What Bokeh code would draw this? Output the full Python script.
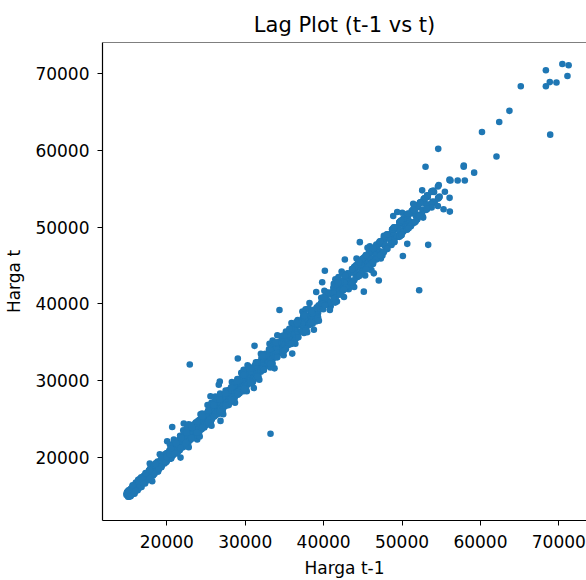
from bokeh.plotting import figure
from bokeh.models import Range1d, FixedTicker, Span
from bokeh.embed import file_html
from bokeh.resources import INLINE

# Price series (Harga), in passes along the diagonal
harga_rendah_naik = [15230, 14980, 15410, 15060, 14870, 15320, 15750, 15290, 15040, 15580, 15910, 15440, 15820, 16350, 15970, 15620, 16180, 16540, 16060, 16710, 16420, 16030, 16590, 17120, 16680, 17040, 17560, 16990, 16740, 17390, 17810, 17330, 17720, 18260, 17690, 18110, 18640, 18250, 17880, 18520, 18930, 18470, 19060, 18620, 19240, 19710, 19180, 18830, 19450, 19960, 19510, 20140, 19760, 20380, 20820, 20290, 20710]
harga_rendah_turun = [20190, 20560, 19830, 19420, 19950, 19370, 18890, 19310, 18700, 18290, 18830, 18160, 17740, 18220, 17590, 17280, 17760, 17150, 16720, 17230, 16590, 16250, 16780, 16120, 15830, 16290, 15690, 15410, 15880, 15260, 14960, 15380, 14910, 15160, 14870, 15090]
harga_naik_halus = [15080, 15190, 15150, 15330, 15290, 15460, 15610, 15540, 15720, 15700, 15890, 15830, 16010, 16170, 16120, 16300, 16480, 16410, 16590, 16560, 16780, 16920, 16850, 17060, 17010, 17240, 17390, 17330, 17520, 17700, 17650, 17850, 17800, 18030, 18190, 18140, 18340, 18520, 18470, 18690, 18640, 18860, 19030, 18980, 19200, 19390, 19330, 19550, 19500, 19740, 19920, 19860, 20090, 20280, 20220, 20460, 20410, 20650, 20850, 20790, 21030, 21240, 21170, 21420, 21360, 21620, 21830, 21760, 22020, 22240, 22160, 22430, 22370, 22640, 22870, 22790, 23060, 23290, 23200, 23480, 23410, 23690, 23930, 23840, 24120, 24370, 24280, 24570, 24490, 24780, 25040, 24950, 25240, 25510, 25410, 25710, 25620, 25920, 26200, 26100, 26400, 26690, 26580, 26890, 26790, 27100, 27390, 27280, 27600, 27900, 27790, 28110, 28010, 28340, 28650, 28530, 28860, 29180, 29060, 29390, 29290, 29630, 29960, 29830, 30170, 30500, 30370, 30720, 30610, 30960, 31300, 31170, 31520, 31870, 31730, 32090, 31980, 32340, 32700, 32560, 32920, 33290, 33140, 33520, 33400, 33780, 34160, 34010, 34390, 34780, 34620, 35010, 34890, 35280, 35680, 35520, 35920, 36320, 36150, 36560, 36430, 36840, 37250, 37080, 37490, 37910, 37730, 38150, 38020, 38450, 38880, 38690, 39130, 39560, 39370, 39810, 39680, 40120, 40560, 40360, 40810, 41260, 41050, 41510, 41370, 41830, 42290, 42070, 42540, 43010, 42780, 43260, 43110, 43590, 44070, 43830, 44320, 44810, 44560, 45060, 44900, 45400, 45910, 45650, 46160, 46680, 46410, 46930, 46760, 47280, 47810, 47530, 48060, 48600, 48310, 48850, 48670, 49210, 49760, 49460, 50010, 50570, 50260, 50820, 50630, 51200, 51770, 51450, 52020, 52600, 52280]
harga_turun_halus = [51630, 51890, 51020, 50740, 51260, 50390, 49980, 50310, 49640, 49560, 48910, 49370, 48700, 48260, 48490, 47710, 47930, 47180, 46840, 47460, 46610, 46380, 45830, 46090, 45240, 45510, 44970, 44320, 44700, 43980, 44110, 43420, 42890, 43350, 42600, 42740, 42050, 41660, 42010, 41230, 41450, 40790, 40160, 40520, 39870, 39960, 39300, 38840, 39250, 38560, 38690, 38030, 37640, 38010, 37260, 37420, 36780, 36250, 36600, 35950, 36080, 35420, 34990, 35360, 34640, 34770, 34150, 33730, 34090, 33410, 33520, 32890, 32380, 32730, 32090, 32210, 31620, 31210, 31550, 30910, 31030, 30440, 30060, 30370, 29780, 29880, 29300, 28830, 29150, 28570, 28680, 28130, 27760, 28060, 27480, 27590, 27060, 26700, 26990, 26440, 26540, 26020, 25580, 25880, 25330, 25440, 24930, 24600, 24860, 24340, 24440, 23950, 23540, 23830, 23310, 23400, 22920, 22610, 22870, 22380, 22470, 21990, 21620, 21890, 21410, 21480, 21030, 20740, 20980, 20520, 20590, 20140, 19800, 20050, 19620, 19680, 19250, 18970, 19190, 18770, 18830, 18420, 18100, 18320, 17910, 17970, 17580, 17310, 17510, 17120, 17170, 16800, 16500, 16700, 16330, 16380, 16030, 15780, 15950, 15610, 15660, 15330, 15100, 15270, 14950]
harga_rendah_lonjak = [15470, 15130, 15690, 16010, 15640, 16350, 17050, 16610, 17240, 17680, 17120, 17550, 17830, 19190, 18720, 18350, 18890, 18140, 16880, 17370, 17860, 17290, 17940, 18430, 17810, 18360, 18970, 18410, 18980, 18560, 19110, 20380, 19820, 19430, 20010, 20560, 19940, 20470, 20980, 20690, 23940, 23360, 22810, 23330, 22690, 22150, 22740, 22120, 21640, 22230, 21590, 21180, 21750, 19960, 20050, 22090, 21530, 21070, 21660, 21090, 20610, 21240, 20730, 20360, 20940, 21480]
harga_tengah_naik = [21020, 21690, 22250, 21640, 22370, 21930, 22640, 23210, 22580, 22090, 22880, 23460, 22830, 23540, 24120, 23390, 23960, 24680, 24110, 23690, 24510, 25160, 24440, 25080, 25690, 25010, 24620, 25430, 26120, 25390, 26080, 26710, 25980, 26640, 27340, 26590, 26150, 27020, 27730, 26980, 27690, 28410, 27620, 28350, 29080, 28290, 27880, 28760, 29490, 28650, 29380, 30170, 29310, 30050, 30840, 30020, 30660, 31100, 29030, 29640, 28910, 28540, 29060, 32870]
harga_tengah_turun = [32090, 32780, 31930, 31240, 31990, 31150, 30480, 31260, 30390, 29760, 30510, 29630, 28970, 29790, 28880, 28260, 29050, 28140, 27510, 28320, 27430, 26830, 27610, 26850, 24740, 25410, 24630, 24060, 24790, 23880, 22310, 22980, 22270, 21770, 22410, 22890, 22170, 24400, 23690, 23170, 23880, 23210, 22930, 32100]
harga_tengah_datar = [32870, 32240, 33130, 32560, 33480, 32760, 33390, 33740, 31590, 32390, 33050, 32380, 33170, 32510, 33230, 23060]
harga_tengah_pulih = [23710, 24290, 23590, 24360, 24990, 24180, 24870, 25570, 27950, 27310, 26690, 27430, 26740, 26180, 26760, 29870, 29160, 28550, 29310, 28490, 27890, 28670, 27840, 27270, 28060, 27220, 26630, 29450, 28810, 29690, 30380, 29560, 30420, 31090, 30240, 30660, 31190, 34520]
harga_atas_awal = [33760, 33090, 33920, 34680, 33870, 34760, 35480, 34650, 35540, 36270, 35410, 36000, 33510, 34310, 35020, 34190, 33920, 34370, 39190]
harga_atas_turun = [38390, 39010, 38130, 37360, 38170, 37240, 36480, 37310, 36420, 35640, 36510, 35530, 34790, 35660, 34720, 33990, 34840, 33870, 33160, 34010, 33040, 32360, 33170, 32230, 31560, 32380, 31410, 30760, 31590, 30630, 30010, 30810, 29870, 29240, 30020, 29110, 28510, 29280, 28360, 27780, 28540, 27630, 27080, 27820, 26920, 26390, 27110, 26230, 25720, 26410, 25560, 25070, 25740, 24910, 24440, 25090, 24270, 23820, 24450, 23640, 23210, 23820, 23030, 22620, 23190, 22420, 22030, 22580, 21830, 21460, 21990, 21260, 20910, 21420, 20720, 20390]
harga_gejolak = [20400, 21650, 20900, 22300, 21400, 22100, 23500, 22600, 23900, 22800, 24300, 25600, 24500, 25200, 26800, 25700, 27100, 26200, 27900, 26800, 28300, 29800, 28600, 29500, 31000, 29800, 31400, 30300, 32000, 33500, 32200, 33100, 34800, 33500, 35200, 34100, 35900, 37500, 36200, 37300, 39000, 37700, 39300, 38200, 40100, 41700, 40300, 41500, 43200, 41900, 43500, 42300, 44200, 45900, 44500, 45600, 47300, 45900, 47500, 46300, 45200, 46100, 44400, 45300, 43700, 42500, 43900, 42200, 41300, 42600, 40900, 39700, 40800, 39200, 38100, 39400, 37800, 36700, 37900, 36300, 35200, 36400, 34800, 33700, 34900, 33300, 32100, 33200, 31700, 30500, 31800, 30100, 29000, 30200, 28600, 27500, 28700, 27100, 26000, 27200, 25600, 24500, 25700, 24100, 23100, 24200, 22700, 21700, 22800, 21300, 20500]
harga_atas_naik = [20960, 20520, 21180, 21740, 21190, 21860, 22430, 21850, 22540, 23130, 22520, 23240, 23850, 23190, 23930, 24560, 23870, 24630, 25280, 24560, 25350, 26020, 25270, 26080, 26770, 25990, 26820, 27530, 26710, 27570, 28300, 27450, 28330, 29080, 28200, 29110, 29880, 28970, 29910, 30700, 29760, 30720, 31530, 30560, 31540, 32370, 31370, 32380, 33230, 32200, 33230, 34100, 33040, 34090, 34980, 33890, 34960, 35870, 34760, 35850, 36780, 35630, 36740, 37680, 36520, 37640, 38600, 37410, 38540, 38760, 36630, 37510, 38380, 37560, 38450, 39060, 41540]
harga_empat_puluhan = [40790, 40050, 40870, 40160, 39820, 42820, 42010, 41240, 42090, 41260, 40610, 41470, 40160, 44320, 43490, 42780, 43640, 42830, 42160, 43050, 43910, 43070, 43970, 44790, 43940, 44620, 48040, 47180, 46430, 47280, 46400, 43970, 44830, 45600, 44760, 45130, 41590, 42460, 41710, 42710, 45770, 44910, 44160, 45050, 45910, 45040, 45950, 46810, 45920, 47040, 43030, 43920, 44780, 43950, 44870, 45740, 44860, 45810, 46710, 45790, 46760, 47680, 46730, 47720, 48660, 47680, 48880, 51450, 50560, 49770, 50680, 50030, 51880, 50970, 50140, 51050, 50160, 49390, 51970, 51050, 50220, 51130, 50110, 46240, 47150, 48030, 47120, 48050, 48970, 48020, 48980, 49910, 48940, 49920, 50670, 47820, 48750, 49660, 48730, 49680, 50630, 49660, 50640, 51600, 50610, 51600, 52560, 51560, 52700, 51240]
harga_puncak = [52130, 51450, 52360, 53190, 52330, 53250, 54120, 53230, 54160, 53290, 53910, 53340, 47690, 48590, 47870, 48820, 49730, 48800, 49750, 50660, 49720, 50680, 51590, 50640, 51620, 52190, 41760, 42590, 41880, 42790, 43650, 42750, 43660, 44540, 43620, 44550, 45430, 44490, 45440, 46330, 45390, 46350, 47240, 46290, 47260, 48150, 47180, 48160, 49050, 48070, 49060, 49950, 48960, 49960, 50850, 49850, 50860, 51740, 50740, 51760, 52570, 54790, 53980, 54760, 53890, 54680, 55470, 54610, 53820, 54640, 53770, 54580, 55300, 52320, 53190, 54060, 53210, 54090, 54570, 52750, 53620, 52810, 53680, 53050, 53000, 57870, 57880, 58010, 56070, 56190, 56070, 56100, 52020, 52890, 53740, 52880, 53770, 54620, 60200, 62400, 63700, 65150, 68350, 68350, 70450, 71250, 71100, 69700, 68850, 68900, 62050, 59200, 57100, 56070, 53810, 54650, 53790, 54620, 53730, 52960, 53780, 52570, 51450, 52290, 51430, 53040, 52240, 53090, 52320, 53150, 52460]

x_ticks = [20000, 30000, 40000, 50000, 60000, 70000]
y_ticks = [20000, 30000, 40000, 50000, 60000, 70000]

harga = (harga_rendah_naik + harga_rendah_turun + harga_naik_halus + harga_turun_halus
         + harga_rendah_lonjak + harga_tengah_naik
         + harga_tengah_turun + harga_tengah_datar + harga_tengah_pulih + harga_atas_awal
         + harga_atas_turun + harga_gejolak + harga_atas_naik + harga_empat_puluhan + harga_puncak)
harga_t_minus_1 = harga[:-1]
harga_t = harga[1:]

FONT = "DejaVu Sans"
Y_TOP = 74060

p = figure(width=586, height=580, output_backend="svg", toolbar_location=None,
           x_range=Range1d(11800, 73530), y_range=Range1d(11760, Y_TOP),
           title="Lag Plot (t-1 vs t)",
           min_border_left=102, min_border_right=0, min_border_top=42, min_border_bottom=53)

p.scatter(harga_t_minus_1, harga_t, size=6.6, color="#1f77b4", line_width=0)

p.title.text_font = FONT
p.title.text_font_size = "21px"
p.title.text_font_style = "normal"
p.title.align = "center"
p.title.text_color = "black"
p.title.standoff = 12

p.xgrid.visible = False
p.ygrid.visible = False
p.outline_line_color = None
p.background_fill_color = "white"
p.border_fill_color = "white"

top_spine = Span(location=Y_TOP, dimension="width", line_color="black", line_width=1.2)
p.add_layout(top_spine)

for ax, ticks in ((p.xaxis, x_ticks), (p.yaxis, y_ticks)):
    ax.ticker = FixedTicker(ticks=ticks)
    ax.major_label_overrides = {t: str(t) for t in ticks}
    ax.minor_tick_line_color = None
    ax.major_tick_in = 0
    ax.major_tick_out = 5
    ax.major_tick_line_color = "black"
    ax.axis_line_color = "black"
    ax.axis_line_width = 1.2
    ax.major_label_text_font = FONT
    ax.major_label_text_font_size = "17px"
    ax.major_label_text_color = "black"
    ax.axis_label_text_font = FONT
    ax.axis_label_text_font_size = "17px"
    ax.axis_label_text_font_style = "normal"
    ax.axis_label_text_color = "black"

p.xaxis.axis_label = "Harga t-1"
p.yaxis.axis_label = "Harga t"
p.yaxis.major_label_orientation = "horizontal"
p.xaxis.major_label_standoff = 9
p.yaxis.major_label_standoff = 8
p.xaxis.axis_label_standoff = 7
p.yaxis.axis_label_standoff = 8

open("out.html", "w").write(file_html(p, INLINE))
